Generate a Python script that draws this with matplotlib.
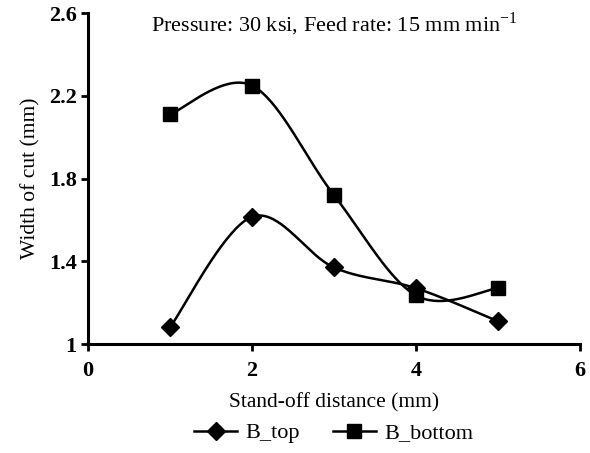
import numpy as np
import matplotlib
matplotlib.use("Agg")
import matplotlib.pyplot as plt
from matplotlib.lines import Line2D

plt.rcParams['font.family'] = ['Liberation Serif', 'DejaVu Serif']
plt.rcParams['mathtext.fontset'] = 'custom'
plt.rcParams['mathtext.rm'] = 'Liberation Serif'

standoff = [1, 2, 3, 4, 5]
b_top = [1.08, 1.615, 1.37, 1.27, 1.11]
b_bottom = [2.11, 2.25, 1.72, 1.235, 1.27]
series_names = ["B_top", "B_bottom"]
x_ticks = [0, 2, 4, 6]
y_ticks = [1, 1.4, 1.8, 2.2, 2.6]
y_tick_labels = ["1", "1.4", "1.8", "2.2", "2.6"]


def smooth(x, y, n=40):
    """Catmull-Rom style Bezier smoothing through the given points."""
    x = np.asarray(x, float)
    y = np.asarray(y, float)
    px = np.concatenate([[x[0]], x, [x[-1]]])
    py = np.concatenate([[y[0]], y, [y[-1]]])
    xs, ys = [], []
    t = np.linspace(0, 1, n)
    for i in range(1, len(px) - 2):
        p0 = np.array([px[i], py[i]])
        p3 = np.array([px[i + 1], py[i + 1]])
        p1 = p0 + (np.array([px[i + 1], py[i + 1]]) - np.array([px[i - 1], py[i - 1]])) / 6
        p2 = p3 - (np.array([px[i + 2], py[i + 2]]) - np.array([px[i], py[i]])) / 6
        b = ((1 - t) ** 3)[:, None] * p0 + (3 * (1 - t) ** 2 * t)[:, None] * p1 \
            + (3 * (1 - t) * t ** 2)[:, None] * p2 + (t ** 3)[:, None] * p3
        xs.append(b[:, 0])
        ys.append(b[:, 1])
    return np.concatenate(xs), np.concatenate(ys)


fig = plt.figure(figsize=(5.9, 4.53), dpi=100)
ax = fig.add_axes([0.149, 0.2406, 0.834, 0.7304])

for vals, marker, ms in [(b_top, 'D', 9), (b_bottom, 's', 9.5)]:
    sx, sy = smooth(standoff, vals)
    ax.plot(sx, sy, color='black', lw=1.8, zorder=2)
    ax.plot(standoff, vals, linestyle='none', marker=marker, ms=ms,
            color='black', zorder=3)

ax.set_xlim(0, 6)
ax.set_ylim(1, 2.6)
ax.set_xticks(x_ticks)
ax.set_yticks(y_ticks)
ax.set_yticklabels(y_tick_labels)
for s in ['top', 'right']:
    ax.spines[s].set_visible(False)
for s in ['left', 'bottom']:
    ax.spines[s].set_linewidth(2.2)
ax.tick_params(axis='both', direction='out', width=2, length=5,
               labelsize=16, pad=3)
ax.tick_params(axis='x', pad=7)
for lab in ax.get_xticklabels() + ax.get_yticklabels():
    lab.set_fontweight('bold')

ax.set_xlabel("Stand-off distance (mm)", fontsize=15.5, labelpad=9)
ax.set_ylabel("Width of cut (mm)", fontsize=15.5, labelpad=6)
ax.text(0.5, 0.965, r"Pressure: 30 ksi, Feed rate: 15 mm min$^{-1}$",
        transform=ax.transAxes, ha='center', va='center', fontsize=16)

handles = [Line2D([], [], color='black', lw=1.8, marker='D', ms=9),
           Line2D([], [], color='black', lw=1.8, marker='s', ms=9.5)]
fig.legend(handles, series_names, loc='center', bbox_to_anchor=(0.566, 0.044),
           ncol=2, frameon=False, fontsize=16, handlelength=1.9,
           columnspacing=1.5, handletextpad=0.4)

fig.savefig("out.png", dpi=100)
